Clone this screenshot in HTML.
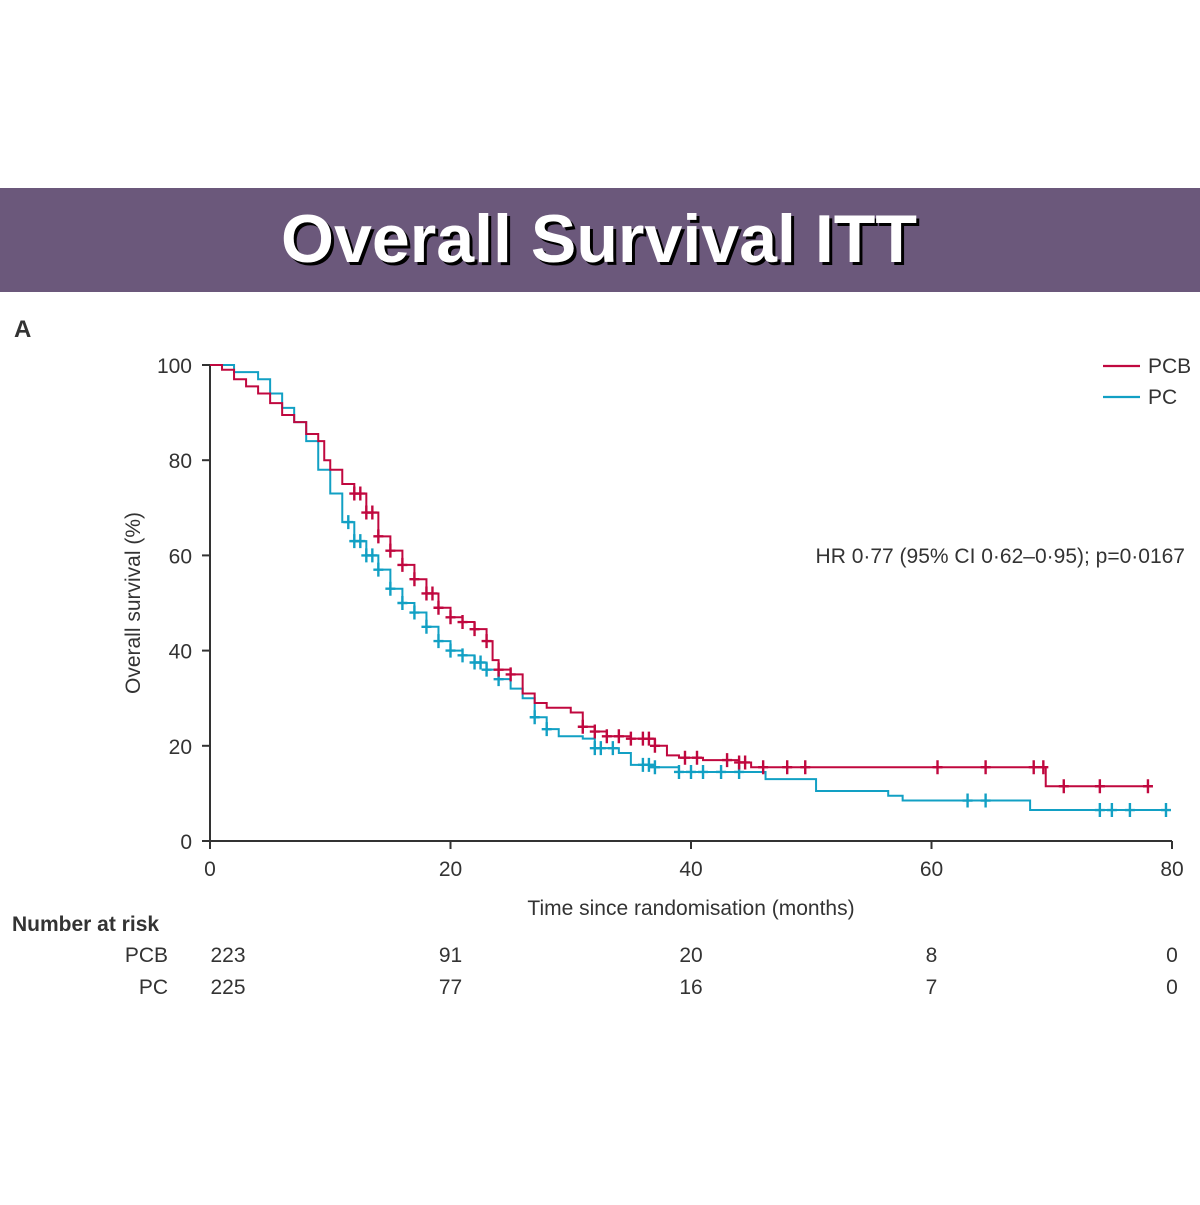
<!DOCTYPE html>
<html><head><meta charset="utf-8"><style>
body{margin:0;background:#fff;width:1200px;height:1200px;overflow:hidden}
text{font-family:"Liberation Sans",sans-serif;fill:#333}
</style></head><body>
<svg id="c" width="1200" height="1200" xmlns="http://www.w3.org/2000/svg">
<rect x="0" y="188" width="1200" height="104" fill="#6b587b"/>
<text x="599" y="262" text-anchor="middle" font-size="68" font-weight="bold" textLength="636" lengthAdjust="spacingAndGlyphs" style="fill:#000" transform="translate(3,3)">Overall Survival ITT</text>
<text x="599" y="262" text-anchor="middle" font-size="68" font-weight="bold" textLength="636" lengthAdjust="spacingAndGlyphs" style="fill:#fff">Overall Survival ITT</text>
<text x="14" y="337" font-size="24" font-weight="bold">A</text>
<g id="axes"></g>
<g id="series"></g>
<line x1="1103" y1="366" x2="1140" y2="366" stroke="#c0083f" stroke-width="2.2"/>
<text x="1148" y="373" font-size="21">PCB</text>
<line x1="1103" y1="397" x2="1140" y2="397" stroke="#12a0c4" stroke-width="2.2"/>
<text x="1148" y="404" font-size="21">PC</text>
<text x="1185" y="563" text-anchor="end" font-size="21">HR 0·77 (95% CI 0·62–0·95); p=0·0167</text>
<text x="140" y="603" text-anchor="middle" font-size="21" transform="rotate(-90 140 603)">Overall survival (%)</text>
<text x="691" y="915" text-anchor="middle" font-size="21">Time since randomisation (months)</text>
<text x="12" y="931" font-size="21" font-weight="bold">Number at risk</text>
<text x="168" y="962" text-anchor="end" font-size="21">PCB</text>
<text x="168" y="994" text-anchor="end" font-size="21">PC</text>
<g id="risk"></g>
</svg>
<script>
const xTicks=[0,20,40,60,80];
const yTicks=[0,20,40,60,80,100];
const pcbTimes=[0,1,2,3,4,5,6,7,8,9,9.5,10,11,12,13,14,15,16,17,18,19,20,21,22,23,23.5,24,25,26,27,28,30,31,32,33,35,37,38,39,41,44,45,69.5,78];
const pcbSurv=[100,99,97,95.5,94,92,89.5,88,85.5,84,80,78,75,73,69,64,61,58,55,52,49,47,46,44.5,42,38,36,35,31,29,28,27,24,23,22,21.5,20,18,17.5,17,16.5,15.5,11.5,11.5];
const pcbCensor=[12,12.5,13,13.5,14,15,16,17,18,18.5,19,20,21,22,23,24,25,31,32,33,34,35,36,36.5,37,39.5,40.5,43,44,44.5,46,48,49.5,60.5,64.5,68.5,69.3,71,74,78];
const pcTimes=[0,2,4,5,6,7,8,9,10,11,12,13,14,15,16,17,18,19,20,21,22,23,24,25,26,27,28,29,31,32,34,35,37,39,46.2,50.4,56.4,57.6,68.2,79.5];
const pcSurv=[100,98.5,97,94,91,88,84,78,73,67,63,60,57,53,50,48,45,42,40,39,37.5,36,34,32,30,26,23.5,22,21.5,19.5,18.5,16,15.5,14.5,13,10.5,9.5,8.5,6.5,6.5];
const pcCensor=[11.5,12,12.5,13,13.5,14,15,16,17,18,19,20,21,22,22.5,23,24,27,28,32,32.5,33.5,36,36.5,37,39,40,41,42.5,44,63,64.5,74,75,76.5,79.5];
const riskTimes=[0,20,40,60,80];
const riskPCB=[223,91,20,8,0];
const riskPC=[225,77,16,7,0];
const X=m=>210+m*12.025, Y=s=>841-s*4.76;
const NS='http://www.w3.org/2000/svg';
function mk(tag,attrs,parent,txt){const e=document.createElementNS(NS,tag);for(const k in attrs)e.setAttribute(k,attrs[k]);if(txt!==undefined)e.textContent=txt;parent.appendChild(e);return e;}
const ax=document.getElementById('axes');
let l=mk('line',{x1:210,y1:Y(100),x2:210,y2:Y(0)+1,stroke:'#333','stroke-width':2},ax);


l=mk('line',{x1:209,y1:Y(0),x2:X(80),y2:Y(0),stroke:'#333','stroke-width':2},ax);


yTicks.forEach(v=>{mk('line',{x1:202,y1:Y(v),x2:210,y2:Y(v),stroke:'#333','stroke-width':2},ax);
 const t=mk('text',{x:192,y:Y(v)+8,'text-anchor':'end','font-size':21},ax,String(v));
 
 });
xTicks.forEach(v=>{mk('line',{x1:X(v),y1:Y(0),x2:X(v),y2:Y(0)+8,stroke:'#333','stroke-width':2},ax);
 const t=mk('text',{x:X(v),y:876,'text-anchor':'middle','font-size':21},ax,String(v));
 
 });
function stepAt(times,surv,t){let s=surv[0];for(let i=0;i<times.length;i++){if(times[i]<=t)s=surv[i];}return s;}
function draw(times,surv,cens,col,name){
 const g=document.getElementById('series');
 let d='M'+X(times[0])+','+Y(surv[0]);
 for(let i=1;i<times.length;i++){d+=' H'+X(times[i])+' V'+Y(surv[i]);}
 const p=mk('path',{d:d,fill:'none',stroke:col,'stroke-width':2},g);
 
 
 cens.forEach(t=>{const y=Y(stepAt(times,surv,t));
  const c=mk('path',{d:'M'+(X(t)-5)+','+y+' H'+(X(t)+5)+' M'+X(t)+','+(y-7)+' V'+(y+7),stroke:col,'stroke-width':2.4},g);
  
  });
}
draw(pcTimes,pcSurv,pcCensor,'#12a0c4','pc');
draw(pcbTimes,pcbSurv,pcbCensor,'#c0083f','pcb');
const rk=document.getElementById('risk');
riskTimes.forEach((t,i)=>{
 const a=mk('text',{x:i===0?X(t)+18:X(t),y:962,'text-anchor':'middle','font-size':21},rk,String(riskPCB[i]));
 
 
 const b=mk('text',{x:i===0?X(t)+18:X(t),y:994,'text-anchor':'middle','font-size':21},rk,String(riskPC[i]));
 
 
});
</script>
</body></html>
